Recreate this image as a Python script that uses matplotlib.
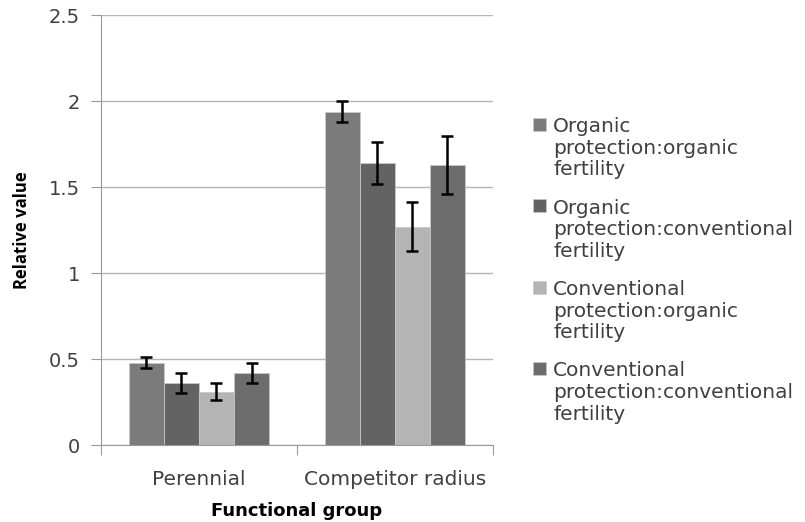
import numpy as np
import matplotlib
matplotlib.use("Agg")
import matplotlib.pyplot as plt
from matplotlib.patches import Rectangle

groups = ["Perennial", "Competitor radius"]
series = [
    "Organic\nprotection:organic\nfertility",
    "Organic\nprotection:conventional\nfertility",
    "Conventional\nprotection:organic\nfertility",
    "Conventional\nprotection:conventional\nfertility",
]
values = [
    [0.48, 1.94],
    [0.36, 1.64],
    [0.31, 1.27],
    [0.42, 1.63],
]
errors = [
    [0.03, 0.063],
    [0.058, 0.12],
    [0.05, 0.143],
    [0.06, 0.17],
]
colors = ["#7b7b7b", "#636363", "#b4b4b4", "#6c6c6c"]

plt.rcParams["font.family"] = ["DejaVu Sans"]

W, H = 805, 522
fig = plt.figure(figsize=(W / 100, H / 100), dpi=100)
ax = fig.add_axes([0.1255, 0.1475, 0.4865, 0.8232])

x = np.arange(len(groups))
w = 0.179
for i in range(len(series)):
    pos = x + (i - 1.5) * w
    ax.bar(pos, values[i], w, color=colors[i], edgecolor="#c8c8c8", linewidth=0.6, zorder=2)
    ax.errorbar(pos, values[i], yerr=errors[i], fmt="none", ecolor="black",
                elinewidth=1.8, capsize=4, capthick=1.8, zorder=3)

ax.set_xlim(-0.5, 1.5)
ax.set_ylim(0, 2.5)
ax.set_yticks([0, 0.5, 1, 1.5, 2, 2.5])
ax.set_yticklabels(["0", "0.5", "1", "1.5", "2", "2.5"])
ax.yaxis.grid(True, color="#b5b5b5", linewidth=1.0, zorder=0)
ax.set_axisbelow(True)

ax.set_xticks([-0.5, 0.5, 1.5])
ax.set_xticklabels([])
ax.set_xticks(x, minor=True)
ax.set_xticklabels(groups, minor=True)
ax.tick_params(axis="x", which="minor", length=0, pad=18, labelsize=14.5, labelcolor="#404040")
ax.tick_params(axis="x", which="major", length=7, color="#999999")
ax.tick_params(axis="y", length=7, color="#999999", labelsize=14, labelcolor="#404040", pad=8)

for s in ["top", "right"]:
    ax.spines[s].set_visible(False)
for s in ["left", "bottom"]:
    ax.spines[s].set_color("#999999")

ax.set_ylabel("Relative value", fontsize=12, fontweight="bold", labelpad=13,
              family=["Open Sans", "DejaVu Sans"])
ax.set_xlabel("Functional group", fontsize=13, fontweight="bold", labelpad=9)

# legend, square aligned with the first line of each entry (Excel style)
for i in range(len(series)):
    top = 117 + 81.5 * i
    yc = top + 7
    fig.patches.append(Rectangle((533 / W, 1 - (yc + 6.5) / H), 13 / W, 13 / H,
                                 transform=fig.transFigure, facecolor=colors[i],
                                 edgecolor="#c8c8c8", linewidth=0.5))
    fig.text(553 / W, 1 - top / H, series[i], fontsize=14.5, color="#404040",
             va="top", ha="left", linespacing=1.17)

fig.savefig("out.png", dpi=100)
